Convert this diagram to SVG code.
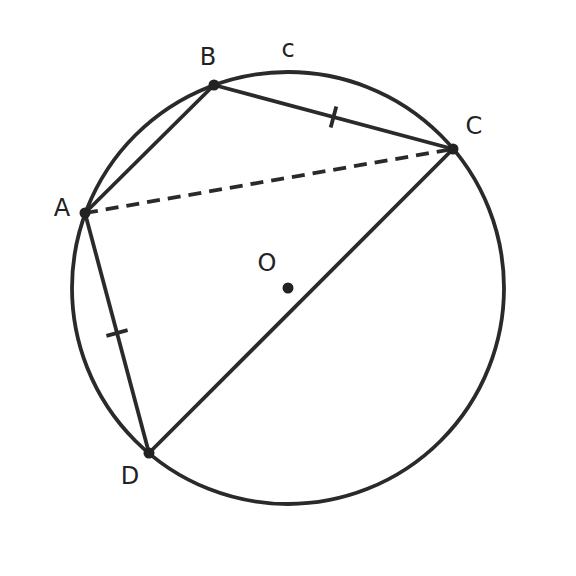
<svg xmlns="http://www.w3.org/2000/svg" width="576" height="576" viewBox="0 0 576 576">
<style>
.ln{stroke:#2a2a2a;stroke-width:3.8;fill:none;stroke-linecap:butt}
.dash{stroke-dasharray:13,8}
.pt{fill:#222}
.lb{font-family:"DejaVu Sans",sans-serif;font-size:24px;fill:#222;text-anchor:middle}
</style>
<rect width="576" height="576" fill="#fff"/>
<g id="circle"><circle class="ln" cx="288" cy="288" r="216"/></g>
<g id="connectors">
<line class="ln" x1="85" y1="213" x2="214" y2="85"/>
<line class="ln" x1="214" y1="85" x2="453" y2="149"/>
<line class="ln dash" x1="85" y1="213" x2="453" y2="149"/>
<line class="ln" x1="85" y1="213" x2="149" y2="453"/>
<line class="ln" x1="453" y1="149" x2="149" y2="453"/>
<line class="ln" x1="330.7" y1="127.6" x2="336.3" y2="106.4"/>
<line class="ln" x1="106.4" y1="335.8" x2="127.6" y2="330.2"/>
</g>
<g id="A"><circle class="pt" cx="85" cy="213" r="5.5"/><text class="lb" x="62" y="216">A</text></g>
<g id="B"><circle class="pt" cx="214" cy="85" r="5.5"/><text class="lb" x="208" y="65">B</text></g>
<g id="C"><circle class="pt" cx="453" cy="149" r="5.5"/><text class="lb" x="474" y="134">C</text></g>
<g id="D"><circle class="pt" cx="149" cy="453" r="5.5"/><text class="lb" x="130" y="484">D</text></g>
<g id="O"><circle class="pt" cx="288" cy="288" r="5.5"/><text class="lb" x="267" y="271">O</text></g>
<g id="arc-label"><text class="lb" x="288" y="57">c</text></g>
</svg>
